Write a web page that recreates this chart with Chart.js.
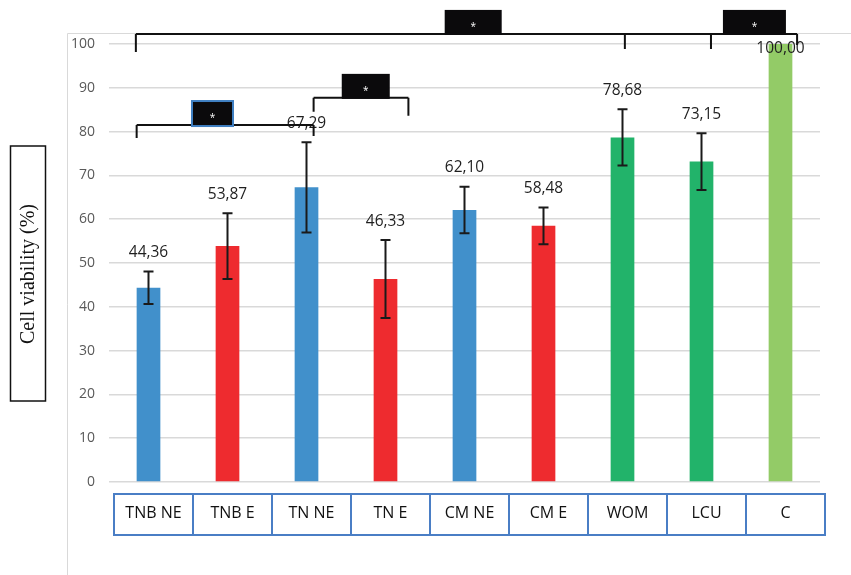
<!DOCTYPE html>
<html>
<head>
<meta charset="utf-8">
<script src="https://cdn.jsdelivr.net/npm/chart.js@4.4.1/dist/chart.umd.min.js"></script>
<style>
  body { margin: 0; background: #fff; }
  canvas { display: block; }
</style>
</head>
<body>
<canvas id="viabilityChart" width="851" height="575"></canvas>
<script>
const categories = ['TNB NE', 'TNB E', 'TN NE', 'TN E', 'CM NE', 'CM E', 'WOM', 'LCU', 'C'];
const viability = [44.36, 53.87, 67.29, 46.33, 62.10, 58.48, 78.68, 73.15, 100.00];
const errors = [3.7, 7.5, 10.3, 8.9, 5.3, 4.2, 6.4, 6.5, 0];
const barColors = ['#4190cb', '#ee2b2f', '#4190cb', '#ee2b2f', '#4190cb', '#ee2b2f', '#22b36a', '#22b36a', '#93cb67'];
const yTicks = [0, 10, 20, 30, 40, 50, 60, 70, 80, 90, 100];

// significance brackets, in category index / value units
const brackets = [
    { from: -0.16, to: 8.21, level: 102.3, drops: [[-0.16, 18], [6.03, 15], [7.12, 15], [8.21, 11]], at: 4.11, w: 57 },
    { from: 7.12, to: 8.21, level: 102.3, drops: [], at: 7.67, w: 63 },
    { from: 2.09, to: 3.29, level: 87.7, drops: [[2.09, 14], [3.29, 18]], at: 2.75, w: 48 },
    { from: -0.15, to: 2.09, level: 81.5, drops: [[-0.15, 13], [2.09, 11]], at: 0.81, w: 41, edge: '#3f7fc2' },
];

function fmt(v) {
    return v.toFixed(2).replace('.', ',');
}

function xAt(x, v) {
    const a = x.getPixelForValue(0);
    const b = x.getPixelForValue(1);
    return a + (b - a) * v;
}

const extras = {
    id: 'extras',
    beforeDraw(chart) {
        const ctx = chart.ctx;
        ctx.save();
        ctx.strokeStyle = '#d9d9d9';
        ctx.lineWidth = 1;
        ctx.beginPath();
        ctx.moveTo(67.5, chart.height);
        ctx.lineTo(67.5, 33.5);
        ctx.lineTo(chart.width, 33.5);
        ctx.stroke();
        ctx.restore();
    },
    afterDatasetsDraw(chart) {
        const ctx = chart.ctx;
        const x = chart.scales.x;
        const y = chart.scales.y;
        const area = chart.chartArea;
        ctx.save();

        // error bars + value labels
        ctx.strokeStyle = '#1a1a1a';
        ctx.lineWidth = 2;
        viability.forEach((v, i) => {
            const cx = x.getPixelForValue(i);
            const top = y.getPixelForValue(v + errors[i]);
            if (errors[i] > 0) {
                const bot = y.getPixelForValue(v - errors[i]);
                ctx.beginPath();
                ctx.moveTo(cx, top); ctx.lineTo(cx, bot);
                ctx.moveTo(cx - 5, top); ctx.lineTo(cx + 5, top);
                ctx.moveTo(cx - 5, bot); ctx.lineTo(cx + 5, bot);
                ctx.stroke();
            }
            ctx.fillStyle = '#1f1f1f';
            ctx.font = '15.5px "Open Sans"';
            ctx.textAlign = 'center';
            ctx.textBaseline = 'middle';
            const ly = Math.max(top - 19, area.top + 5);
            ctx.fillText(fmt(v), cx, ly);
        });

        // significance brackets
        brackets.forEach(b => {
            const ly = y.getPixelForValue(b.level);
            ctx.strokeStyle = '#111';
            ctx.lineWidth = 2;
            ctx.beginPath();
            ctx.moveTo(xAt(x, b.from), ly);
            ctx.lineTo(xAt(x, b.to), ly);
            b.drops.forEach(([p, len]) => {
                const px = xAt(x, p);
                ctx.moveTo(px, ly);
                ctx.lineTo(px, ly + len);
            });
            ctx.stroke();
            const bx = xAt(x, b.at);
            ctx.fillStyle = '#0b0a0c';
            ctx.fillRect(bx - b.w / 2, ly - 24, b.w, 25);
            if (b.edge) {
                ctx.strokeStyle = b.edge;
                ctx.lineWidth = 2;
                ctx.strokeRect(bx - b.w / 2, ly - 24, b.w, 25);
            }
            ctx.fillStyle = '#fff';
            ctx.font = '10px "Open Sans"';
            ctx.textAlign = 'center';
            ctx.textBaseline = 'middle';
            ctx.fillText('*', bx, ly - 7);
        });

        // boxes around category labels
        const step = x.getPixelForValue(1) - x.getPixelForValue(0);
        ctx.strokeStyle = '#4a7ec5';
        ctx.lineWidth = 2;
        categories.forEach((c, i) => {
            const left = x.getPixelForValue(i) - step / 2 + 5;
            ctx.strokeRect(left, 494, step, 41);
        });

        // y axis title with frame
        ctx.strokeStyle = '#111';
        ctx.lineWidth = 1.5;
        ctx.strokeRect(10.5, 146, 35, 255);
        ctx.translate(28, 274);
        ctx.rotate(-Math.PI / 2);
        ctx.fillStyle = '#111';
        ctx.font = '20px "Liberation Serif"';
        ctx.textAlign = 'center';
        ctx.textBaseline = 'middle';
        ctx.fillText('Cell viability (%)', 0, 1);
        ctx.restore();
    }
};

const config = {
    type: 'bar',
    data: {
        labels: categories,
        datasets: [{
            label: 'Cell viability',
            data: viability,
            backgroundColor: barColors,
            borderWidth: 0,
            barPercentage: 0.3,
            categoryPercentage: 1,
        }],
    },
    options: {
        responsive: false,
        animation: false,
        devicePixelRatio: 1,
        layout: {
            padding: { top: 44, right: 31, bottom: 33, left: 69 },
        },
        plugins: {
            legend: { display: false },
            tooltip: { enabled: false },
        },
        scales: {
            x: {
                grid: { display: false, drawTicks: false },
                border: { display: false },
                ticks: {
                    color: '#111',
                    font: { family: 'Open Sans', size: 16 },
                    padding: 22,
                    labelOffset: 5,
                    maxRotation: 0,
                    autoSkip: false,
                },
                afterFit(scale) { scale.height = 60; },
            },
            y: {
                min: 0,
                max: 100,
                afterBuildTicks(scale) {
                    scale.ticks = yTicks.map(v => ({ value: v }));
                },
                grid: { color: '#d9d9d9', lineWidth: 1.5, drawTicks: false },
                border: { display: false },
                ticks: {
                    color: '#595959',
                    font: { family: 'Open Sans', size: 14 },
                    padding: 14,
                },
                afterFit(scale) { scale.width = 40; },
            },
        },
    },
    plugins: [extras],
};

const chartCanvas = document.getElementById('viabilityChart');
const viabilityChart = new Chart(chartCanvas, config);
</script>
</body>
</html>
